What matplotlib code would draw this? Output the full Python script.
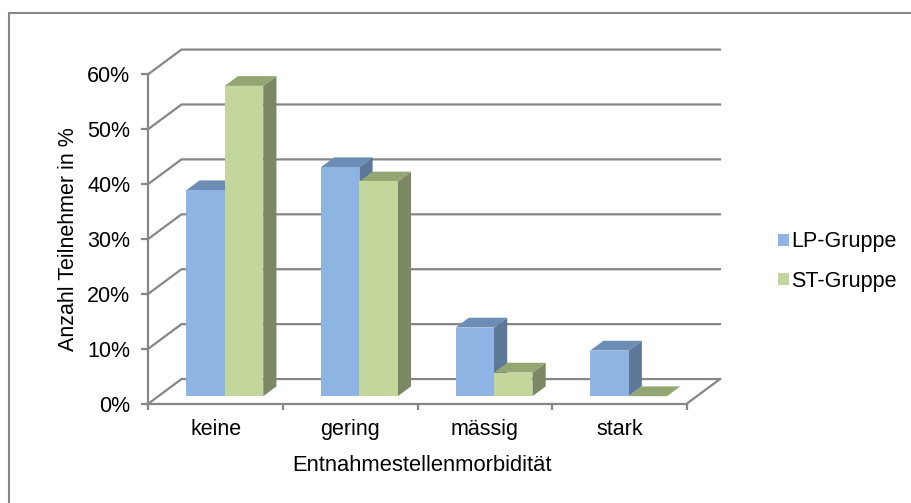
#!/usr/bin/env python3
import matplotlib
matplotlib.use("Agg")
import matplotlib.pyplot as plt
from matplotlib.patches import Patch, Polygon, Rectangle
from matplotlib.ticker import PercentFormatter

plt.rcParams["font.family"] = ["Liberation Sans", "DejaVu Sans"]

categories = ["keine", "gering", "mässig", "stark"]
lp_gruppe = [37.5, 41.7, 12.5, 8.3]
st_gruppe = [56.5, 39.1, 4.3, 0.0]
y_ticks = [0, 10, 20, 30, 40, 50, 60]

GRAY = "#868686"
BLUE = ("#8EB4E3", "#6C8DB5", "#5C7798")
GREEN = ("#C3D69B", "#94A672", "#7C8863")

# depth of the fake 3D box, in data units of the front plane
DEPTH_X = 0.245
DEPTH_Y = 4.45
BAR_W = 1 / 3.5
W, H = 912, 503
FONT = 15.5
LINE = 1.6


def project(x, y, d):
    return x + d * DEPTH_X, y + d * DEPTH_Y


def draw_bar(ax, x, value, colors, z):
    d0, d1 = 0.3, 0.7
    front = [project(x, 0, d0), project(x + BAR_W, 0, d0),
             project(x + BAR_W, value, d0), project(x, value, d0)]
    top = [project(x, value, d0), project(x + BAR_W, value, d0),
           project(x + BAR_W, value, d1), project(x, value, d1)]
    side = [project(x + BAR_W, 0, d0), project(x + BAR_W, 0, d1),
            project(x + BAR_W, value, d1), project(x + BAR_W, value, d0)]
    for pts, col in zip((side, top, front), (colors[2], colors[1], colors[0])):
        ax.add_patch(Polygon(pts, closed=True, fc=col, ec="none", zorder=z, clip_on=False))


fig = plt.figure(figsize=(W / 100, H / 100), dpi=100)
fig.patches.append(Rectangle((9 / W, -0.01), 1.01, 1 - 13 / H + 0.01, transform=fig.transFigure,
                             fc="white", ec=GRAY, lw=1.5, zorder=-1))

ax = fig.add_axes([148.5 / W, 1 - 403.5 / H, 538.5 / W, 329.5 / H])
ax.patch.set_visible(False)
ax.set_xlim(0, len(categories))
ax.set_ylim(0, 60)

for spine in ("top", "right"):
    ax.spines[spine].set_visible(False)
for spine in ("left", "bottom"):
    ax.spines[spine].set_color(GRAY)
    ax.spines[spine].set_linewidth(LINE)

ax.set_xticks(range(len(categories) + 1), [""] * (len(categories) + 1))
ax.set_xticks([i + 0.5 for i in range(len(categories))], categories, minor=True)
ax.tick_params(axis="x", which="major", length=4, width=LINE, color=GRAY)
ax.tick_params(axis="x", which="minor", length=0, pad=11, labelsize=FONT)
ax.set_yticks(y_ticks)
ax.yaxis.set_major_formatter(PercentFormatter(decimals=0))
ax.tick_params(axis="y", length=5, width=LINE, color=GRAY, labelsize=FONT, pad=8)
ax.set_xlabel("Entnahmestellenmorbidität", fontsize=15.8, labelpad=11, x=0.507)
ax.set_ylabel("Anzahl Teilnehmer in %", fontsize=FONT, labelpad=6)

# left wall diagonals and back wall gridlines
for v in y_ticks:
    bx, by = project(0, v, 1)
    ex, ey = project(len(categories), v, 1)
    ax.plot([0, bx, ex], [v, by, ey], color=GRAY, lw=LINE, clip_on=False, zorder=1,
            solid_joinstyle="miter")
# right edge of the floor
ax.plot([len(categories), project(len(categories), 0, 1)[0]], [0, DEPTH_Y], color=GRAY, lw=LINE,
        clip_on=False, zorder=1)

for i, (lp, st) in enumerate(zip(lp_gruppe, st_gruppe)):
    left = i + (1 - 2 * BAR_W) / 2 - 0.007
    draw_bar(ax, left, lp, BLUE, 3 + i)
    draw_bar(ax, left + BAR_W, st, GREEN, 3.5 + i)

handles = [Patch(fc=BLUE[0], label="LP-Gruppe"), Patch(fc=GREEN[0], label="ST-Gruppe")]
fig.legend(handles=handles, loc="center left", bbox_to_anchor=(778 / W, 1 - 261.5 / H), frameon=False,
           fontsize=FONT, handlelength=0.51, handleheight=0.51, handletextpad=0.1, labelspacing=0.85,
           borderpad=0, borderaxespad=0)

fig.savefig("out.png", dpi=100)
